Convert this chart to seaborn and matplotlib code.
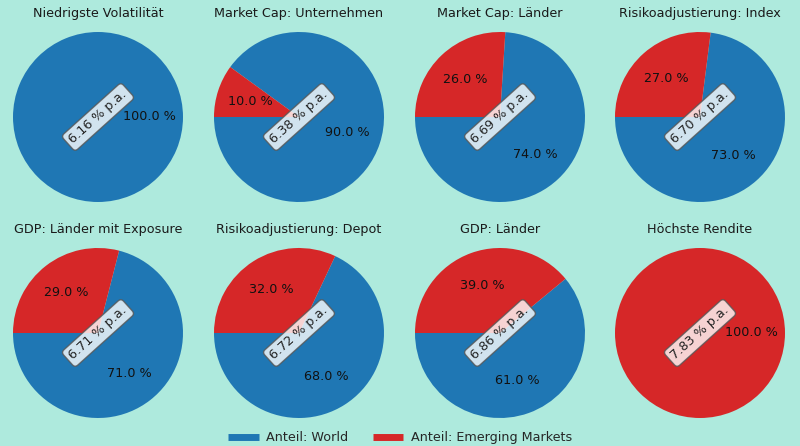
import numpy as np
import matplotlib
matplotlib.use("Agg")
import matplotlib.pyplot as plt
import seaborn as sns
from matplotlib.lines import Line2D

titles = ["Niedrigste Volatilität", "Market Cap: Unternehmen", "Market Cap: Länder",
          "Risikoadjustierung: Index", "GDP: Länder mit Exposure", "Risikoadjustierung: Depot",
          "GDP: Länder", "Höchste Rendite"]
world = [100, 90, 74, 73, 71, 68, 61, 0]
emerging = [0, 10, 26, 27, 29, 32, 39, 100]
rendite = [6.16, 6.38, 6.69, 6.70, 6.71, 6.72, 6.86, 7.83]
series_names = ["Anteil: World", "Anteil: Emerging Markets"]

sns.set_style("white")
pal = sns.color_palette("tab10")
colors = [pal[0], pal[3]]
bg = "#aeeadd"

fig = plt.figure(figsize=(8, 4.46), dpi=100, facecolor=bg)
W, H = 800, 446
diam = 170
col_x = [98, 299, 500, 700]
row_y = [117, 333]

for i, title in enumerate(titles):
    cx = col_x[i % 4]
    cy = row_y[i // 4]
    ax = fig.add_axes([(cx - diam / 2) / W, (H - cy - diam / 2) / H, diam / W, diam / H])
    ax.set_facecolor(bg)
    vals = np.array([world[i], emerging[i]], dtype=float)
    mask = vals > 0
    ax.pie(vals[mask], colors=[c for c, m in zip(colors, mask) if m], startangle=180,
           autopct=lambda p: f"{p:.1f} %", wedgeprops={"linewidth": 0},
           textprops={"fontsize": 9.2, "color": "#111111"})
    ax.set_xlim(-1, 1)
    ax.set_ylim(-1, 1)
    ax.set_title(title, fontsize=9.2, pad=11, color="#1a1a1a")
    ax.text(0, 0, f"{rendite[i]:.2f} % p.a.", rotation=42, ha="center", va="center",
            fontsize=9.2, color="#222222",
            bbox=dict(boxstyle="round,pad=0.3", facecolor="white", alpha=0.8, edgecolor="#555555"))

handles = [Line2D([0], [0], color=c, lw=5, solid_capstyle="butt") for c in colors]
fig.legend(handles, series_names, loc="lower center", ncol=2, frameon=False,
           fontsize=9.2, bbox_to_anchor=(0.5, -0.022), columnspacing=1.9, handlelength=2.4,
           handletextpad=0.6)

fig.savefig("out.png", dpi=100, facecolor=bg)
